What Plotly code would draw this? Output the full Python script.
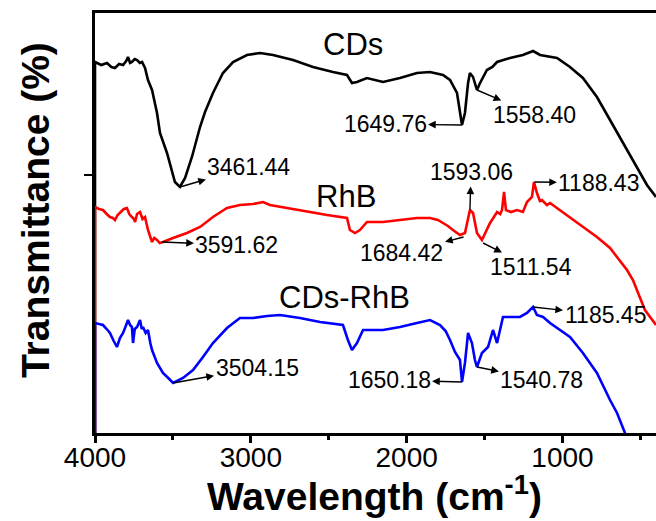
import plotly.graph_objects as go

# ---------------- data (wavenumber cm-1, offset transmittance) ----------------
cds_wn = [4000, 4000, 3960, 3923, 3895, 3872, 3845, 3820, 3800, 3788, 3775, 3763, 3745, 3730, 3712, 3698,
          3679, 3660, 3634, 3602, 3583, 3538, 3487, 3455, 3422, 3378, 3326, 3294, 3243, 3179, 3114, 3025,
          2941, 2858, 2729, 2601, 2473, 2383, 2351, 2319, 2255, 2152, 2043, 1934, 1850, 1767, 1722, 1677,
          1645, 1626, 1606, 1594, 1574, 1549, 1529, 1485, 1450, 1420, 1337, 1254, 1189, 1144, 1035, 952,
          869, 779, 695, 612, 522, 458, 400]
cds_t = [0, 371, 368, 370, 366, 365, 369, 368, 372, 376, 370, 371, 374, 373, 370, 371,
         365, 353, 343, 320, 300, 280, 251, 246, 255, 276, 306, 321, 340, 360, 371, 378,
         380, 378, 373, 366, 361, 358, 350, 351, 355, 351, 355, 360, 361, 358, 353, 340,
         308, 320, 350, 360, 356, 343, 350, 363, 366, 371, 375, 378, 382, 378, 375, 366,
         355, 336, 313, 290, 266, 248, 236]

rhb_wn = [4000, 4000, 3975, 3949, 3925, 3904, 3885, 3872, 3855, 3840, 3815, 3795, 3780, 3763, 3750, 3743,
          3730, 3711, 3695, 3679, 3668, 3660, 3645, 3634, 3620, 3602, 3585, 3564, 3499, 3410, 3326, 3243,
          3153, 3070, 2986, 2922, 2877, 2768, 2640, 2511, 2383, 2364, 2332, 2300, 2255, 2152, 2043, 1934,
          1850, 1800, 1767, 1735, 1703, 1658, 1626, 1594, 1574, 1549, 1517, 1497, 1465, 1440, 1420, 1400,
          1388, 1375, 1363, 1330, 1292, 1254, 1228, 1196, 1183, 1164, 1145, 1132, 1100, 1080, 1035, 952,
          869, 779, 695, 650, 586, 548, 503, 471, 400]
rhb_t = [0, 226, 224, 223, 219, 216, 215, 213, 218, 220, 224, 225, 219, 216, 214, 211,
         219, 221, 214, 216, 208, 203, 196, 191, 195, 193, 190, 191, 195, 200, 206, 216,
         225, 228, 229, 231, 228, 225, 221, 218, 215, 203, 200, 203, 211, 211, 213, 215,
         215, 213, 210, 207, 203, 198, 200, 223, 220, 200, 193, 200, 210, 216, 221, 219,
         223, 241, 223, 221, 223, 221, 231, 236, 251, 240, 232, 233, 228, 230, 225, 216,
         206, 196, 185, 176, 163, 153, 136, 123, 108]

mix_wn = [4000, 4000, 3975, 3949, 3925, 3904, 3880, 3859, 3840, 3820, 3800, 3788, 3775, 3763, 3756, 3745,
          3730, 3711, 3700, 3692, 3675, 3660, 3645, 3634, 3602, 3564, 3530, 3499, 3435, 3371, 3307, 3243,
          3153, 3070, 2986, 2896, 2813, 2685, 2556, 2409, 2377, 2351, 2319, 2280, 2152, 2043, 1934, 1850,
          1786, 1750, 1722, 1690, 1658, 1645, 1626, 1606, 1581, 1562, 1549, 1517, 1478, 1446, 1420, 1382,
          1337, 1273, 1228, 1189, 1164, 1125, 1080, 1016, 952, 869, 779, 695, 650, 599, 535, 400]
mix_t = [0, 110, 109, 108, 104, 100, 92, 86, 95, 100, 108, 113, 108, 106, 90, 104,
         106, 113, 104, 106, 100, 103, 90, 83, 70, 60, 55, 50, 55, 63, 76, 90,
         105, 115, 115, 117, 118, 115, 111, 108, 93, 83, 90, 103, 103, 106, 110, 113,
         108, 102, 93, 81, 73, 51, 70, 100, 90, 73, 66, 80, 86, 103, 90, 116,
         116, 116, 120, 126, 118, 116, 110, 103, 96, 80, 60, 33, 20, 0, -22, -60]

# peak annotations: label, peak position (wn, T)
peak_labels = ["3461.44", "1649.76", "1558.40",
               "3591.62", "1593.06", "1684.42", "1511.54", "1188.43",
               "3504.15", "1650.18", "1540.78", "1185.45"]
peak_wn = [3455, 1645, 1549, 3570, 1594, 1635, 1510, 1180, 3499, 1645, 1549, 1189]
peak_t = [246, 308, 343, 191, 223, 196, 190, 251, 50, 51, 66, 126]

series_names = ["CDs", "RhB", "CDs-RhB"]
series_colors = ["black", "#ff0000", "#0000ff"]

# ---------------- layout helpers (text placement) ----------------
label_pos_wn = [3012, 2139, 1177, 3089, 1587, 2030, 1202, 766, 2960, 2113, 1132, 727]
label_pos_t = [266, 309, 318, 188, 261, 180, 166, 250, 65, 53, 53, 118]
name_pos_wn = [2344, 2389, 2396]
name_pos_t = [389, 237, 136]

FONT = "Liberation Sans, Arial, sans-serif"

fig = go.Figure()
for wn, t, name, col in zip([cds_wn, rhb_wn, mix_wn], [cds_t, rhb_t, mix_t], series_names, series_colors):
    fig.add_trace(go.Scatter(x=wn, y=t, mode="lines", name=name,
                             line=dict(color=col, width=2.6), showlegend=False))

annotations = []
for txt, px, py, tx, ty in zip(peak_labels, peak_wn, peak_t, label_pos_wn, label_pos_t):
    annotations.append(dict(
        x=px, y=py, xref="x", yref="y", ax=tx, ay=ty, axref="x", ayref="y",
        text=txt, showarrow=True, arrowside="start", startarrowhead=2, startarrowsize=1.1,
        arrowwidth=1.4, arrowcolor="black", font=dict(family=FONT, size=23, color="black"),
        xanchor="center", yanchor="middle"))
for name, x, y in zip(series_names, name_pos_wn, name_pos_t):
    annotations.append(dict(x=x, y=y, xref="x", yref="y", text=name, showarrow=False,
                            font=dict(family=FONT, size=31, color="black"),
                            xanchor="center", yanchor="middle"))
annotations.append(dict(x=0.499, y=-0.207, xref="paper", yref="paper",
                        text="Wavelength (cm<sup>-1</sup>)", showarrow=False,
                        font=dict(family=FONT, size=39, color="black", weight="bold"),
                        xanchor="center", yanchor="bottom"))
annotations.append(dict(x=-0.105, y=0.531, xref="paper", yref="paper",
                        text="Transmittance (%)", showarrow=False, textangle=-90,
                        font=dict(family=FONT, size=39, color="black", weight="bold"),
                        xanchor="center", yanchor="middle"))

fig.update_layout(
    width=656, height=521,
    margin=dict(l=95, r=0, t=13, b=88),
    paper_bgcolor="white", plot_bgcolor="white",
    annotations=annotations,
    xaxis=dict(range=[4000, 400], tick0=0, dtick=1000, ticks="outside", ticklen=7, tickwidth=2.5,
               tickcolor="black", showline=True, linewidth=2.5, linecolor="black", mirror=True,
               showgrid=False, zeroline=False, layer="below traces",
               ticklabelstandoff=-9,
               tickfont=dict(family=FONT, size=28, color="black"),
               minor=dict(dtick=500, tick0=0, ticks="outside", ticklen=4, tickwidth=2.5,
                          tickcolor="black", showgrid=False)),
    yaxis=dict(range=[0, 420], tickvals=[258], ticks="outside", ticklen=8, tickwidth=2,
               tickcolor="black", showticklabels=False, showline=True, linewidth=2.5,
               linecolor="black", mirror=False, showgrid=False, zeroline=False,
               layer="below traces"),
)

fig.write_html("out.html")
